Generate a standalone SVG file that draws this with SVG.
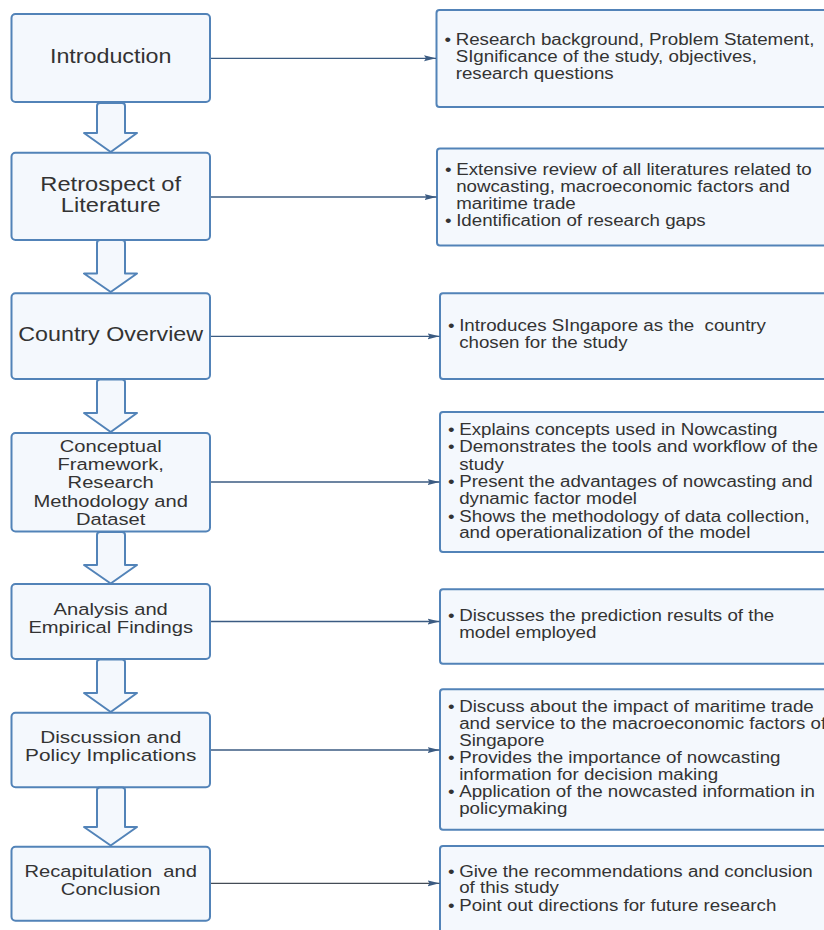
<svg xmlns="http://www.w3.org/2000/svg" width="824" height="930" viewBox="0 0 824 930">
  <style>
    .box { fill: #f4f8fd; stroke: #5283b8; stroke-width: 2; }
    .flow { fill: #f4f8fd; stroke: #5283b8; stroke-width: 2; stroke-linejoin: round; }
    .link { fill: none; stroke: #3b5b82; stroke-width: 1.3; }
    .t { font-family: "Liberation Sans", Arial, sans-serif; fill: #333333; white-space: pre; }
    .big { font-size: 19.4px; text-anchor: middle; }
    .mid { font-size: 16.8px; text-anchor: middle; }
    .bul { font-size: 15.6px; }
  </style>
  <defs>
    <marker id="tip" viewBox="0 0 12 8" refX="12" refY="4" markerWidth="12" markerHeight="8" markerUnits="userSpaceOnUse" orient="auto">
      <path d="M0,1 L12,4 L0,7 L2,4 Z" fill="#3b5b82"/>
    </marker>
  </defs>

  <!-- right-hand description panels (run past the right edge) -->
  <g id="desc-intro">
    <rect class="box" x="436.5" y="10" width="400" height="97" rx="3"/>
    <g class="t bul" transform="translate(444.5 0) scale(1.2 1)">
      <text x="0" y="45">•</text>
      <text x="9.3" y="45">Research background, Problem Statement,</text>
      <text x="9.3" y="62">SIgnificance of the study, objectives,</text>
      <text x="9.3" y="79">research questions</text>
    </g>
  </g>
  <g id="desc-literature">
    <rect class="box" x="437" y="148.5" width="400" height="97" rx="3"/>
    <g class="t bul" transform="translate(445 0) scale(1.2 1)">
      <text x="0" y="175">•</text>
      <text x="9.3" y="175">Extensive review of all literatures related to</text>
      <text x="9.3" y="192.3">nowcasting, macroeconomic factors and</text>
      <text x="9.3" y="209.3">maritime trade</text>
      <text x="0" y="226.3">•</text>
      <text x="9.3" y="226.3">Identification of research gaps</text>
    </g>
  </g>
  <g id="desc-country">
    <rect class="box" x="440" y="293.3" width="400" height="85.7" rx="3"/>
    <g class="t bul" transform="translate(448 0) scale(1.2 1)">
      <text x="0" y="331">•</text>
      <text x="9.3" y="331" xml:space="preserve">Introduces SIngapore as the  country</text>
      <text x="9.3" y="347.7">chosen for the study</text>
    </g>
  </g>
  <g id="desc-method">
    <rect class="box" x="440" y="412" width="400" height="140" rx="3"/>
    <g class="t bul" transform="translate(448 0) scale(1.2 1)">
      <text x="0" y="435">•</text>
      <text x="9.3" y="435">Explains concepts used in Nowcasting</text>
      <text x="0" y="452.3">•</text>
      <text x="9.3" y="452.3">Demonstrates the tools and workflow of the</text>
      <text x="9.3" y="469.7">study</text>
      <text x="0" y="487.2">•</text>
      <text x="9.3" y="487.2">Present the advantages of nowcasting and</text>
      <text x="9.3" y="504.4">dynamic factor model</text>
      <text x="0" y="521.7">•</text>
      <text x="9.3" y="521.7">Shows the methodology of data collection,</text>
      <text x="9.3" y="538.5">and operationalization of the model</text>
    </g>
  </g>
  <g id="desc-analysis">
    <rect class="box" x="440" y="589.3" width="400" height="74.5" rx="3"/>
    <g class="t bul" transform="translate(448 0) scale(1.2 1)">
      <text x="0" y="621">•</text>
      <text x="9.3" y="621">Discusses the prediction results of the</text>
      <text x="9.3" y="638.3">model employed</text>
    </g>
  </g>
  <g id="desc-discussion">
    <rect class="box" x="440" y="689.3" width="400" height="140.5" rx="3"/>
    <g class="t bul" transform="translate(448 0) scale(1.2 1)">
      <text x="0" y="711.7">•</text>
      <text x="9.3" y="711.7">Discuss about the impact of maritime trade</text>
      <text x="9.3" y="729">and service to the macroeconomic factors of</text>
      <text x="9.3" y="746.2">Singapore</text>
      <text x="0" y="763.4">•</text>
      <text x="9.3" y="763.4">Provides the importance of nowcasting</text>
      <text x="9.3" y="780.4">information for decision making</text>
      <text x="0" y="797.4">•</text>
      <text x="9.3" y="797.4">Application of the nowcasted information in</text>
      <text x="9.3" y="814.2">policymaking</text>
    </g>
  </g>
  <g id="desc-conclusion">
    <rect class="box" x="440" y="846" width="400" height="92" rx="3"/>
    <g class="t bul" transform="translate(448 0) scale(1.2 1)">
      <text x="0" y="876.7">•</text>
      <text x="9.3" y="876.7">Give the recommendations and conclusion</text>
      <text x="9.3" y="893.4">of this study</text>
      <text x="0" y="910.7">•</text>
      <text x="9.3" y="910.7">Point out directions for future research</text>
    </g>
  </g>

  <!-- chapter boxes -->
  <g id="ch-introduction">
    <rect class="box" x="11.5" y="14" width="198.5" height="88" rx="4"/>
    <g class="t big" transform="translate(110.7 0) scale(1.2 1)">
      <text x="0" y="63.3">Introduction</text>
    </g>
  </g>
  <g id="ch-literature">
    <rect class="box" x="11.5" y="152.7" width="198.5" height="87.3" rx="4"/>
    <g class="t big" transform="translate(110.7 0) scale(1.22 1)">
      <text x="0" y="190.7">Retrospect of</text>
      <text x="0" y="212.3">Literature</text>
    </g>
  </g>
  <g id="ch-country">
    <rect class="box" x="11.5" y="293.3" width="198.5" height="85.7" rx="4"/>
    <g class="t big" transform="translate(110.7 0) scale(1.2 1)">
      <text x="0" y="340.7">Country Overview</text>
    </g>
  </g>
  <g id="ch-method">
    <rect class="box" x="11.5" y="433" width="198.5" height="98.5" rx="4"/>
    <g class="t mid" transform="translate(110.7 0) scale(1.2 1)">
      <text x="0" y="451.7">Conceptual</text>
      <text x="0" y="470">Framework,</text>
      <text x="0" y="488.4">Research</text>
      <text x="0" y="507">Methodology and</text>
      <text x="0" y="525.4">Dataset</text>
    </g>
  </g>
  <g id="ch-analysis">
    <rect class="box" x="11.5" y="584" width="198.5" height="75" rx="4"/>
    <g class="t mid" transform="translate(110.7 0) scale(1.2 1)">
      <text x="0" y="615">Analysis and</text>
      <text x="0" y="633.3">Empirical Findings</text>
    </g>
  </g>
  <g id="ch-discussion">
    <rect class="box" x="11.5" y="712.7" width="198.5" height="74.6" rx="4"/>
    <g class="t mid" transform="translate(110.7 0) scale(1.24 1)">
      <text x="0" y="742.7">Discussion and</text>
      <text x="0" y="761">Policy Implications</text>
    </g>
  </g>
  <g id="ch-conclusion">
    <rect class="box" x="11.5" y="846.7" width="198.5" height="74" rx="4"/>
    <g class="t mid" transform="translate(110.7 0) scale(1.2 1)">
      <text x="0" y="876.7" xml:space="preserve">Recapitulation  and</text>
      <text x="0" y="895">Conclusion</text>
    </g>
  </g>

  <!-- connectors: block arrows down the chapter column, pointers to the panels -->
  <g id="connectors">
    <path class="flow" d="M97,106 Q97,103 100,103 L122,103 Q125,103 125,106 L125,133 L137,133 L110.7,152 L84,133 L97,133 Z"/>
    <path class="flow" d="M97,243 Q97,240 100,240 L122,240 Q125,240 125,243 L125,273.5 L137,273.5 L110.7,292 L84,273.5 L97,273.5 Z"/>
    <path class="flow" d="M97,382 Q97,379.5 100,379.5 L122,379.5 Q125,379.5 125,382 L125,413 L137,413 L110.7,432 L84,413 L97,413 Z"/>
    <path class="flow" d="M97,535 Q97,532 100,532 L122,532 Q125,532 125,535 L125,565 L137,565 L110.7,583.5 L84,565 L97,565 Z"/>
    <path class="flow" d="M97,662 Q97,659.5 100,659.5 L122,659.5 Q125,659.5 125,662 L125,693 L137,693 L110.7,712 L84,693 L97,693 Z"/>
    <path class="flow" d="M97,790 Q97,787.5 100,787.5 L122,787.5 Q125,787.5 125,790 L125,827 L137,827 L110.7,845.5 L84,827 L97,827 Z"/>

    <line class="link" x1="211" y1="58.3" x2="436" y2="58.3" marker-end="url(#tip)"/>
    <line class="link" x1="211" y1="197" x2="436.5" y2="197" marker-end="url(#tip)"/>
    <line class="link" x1="211" y1="336.3" x2="439.5" y2="336.3" marker-end="url(#tip)"/>
    <line class="link" x1="211" y1="482" x2="439.5" y2="482" marker-end="url(#tip)"/>
    <line class="link" x1="211" y1="621.5" x2="439.5" y2="621.5" marker-end="url(#tip)"/>
    <line class="link" x1="211" y1="750" x2="439.5" y2="750" marker-end="url(#tip)"/>
    <line class="link" x1="211" y1="883.3" x2="439.5" y2="883.3" marker-end="url(#tip)" style="stroke:#444c56"/>
  </g>
</svg>
